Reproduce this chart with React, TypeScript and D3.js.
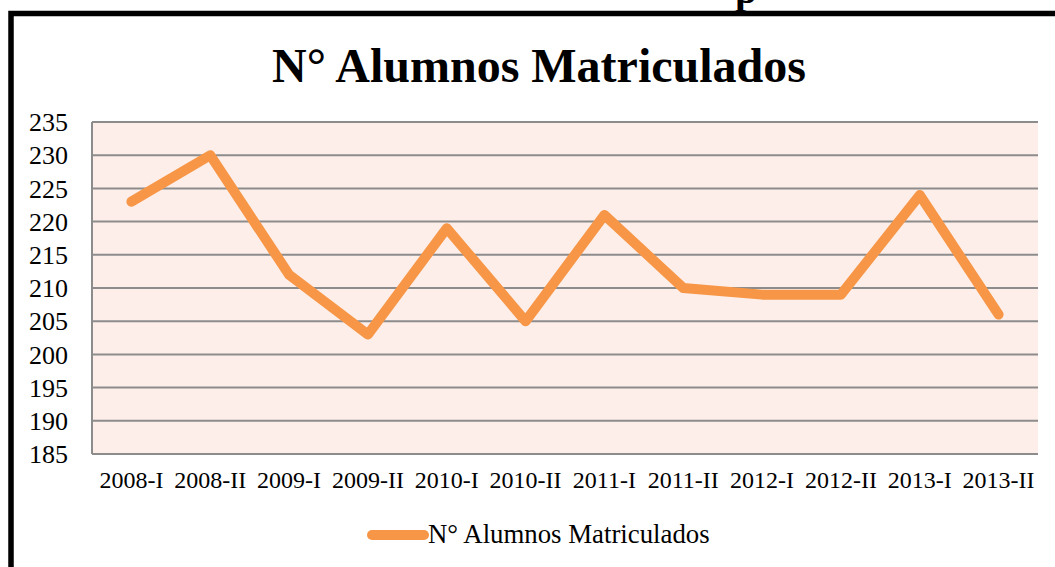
import React from "react";
import * as d3 from "d3";

const categories = ["2008-I","2008-II","2009-I","2009-II","2010-I","2010-II","2011-I","2011-II","2012-I","2012-II","2013-I","2013-II"];
const values = [223, 230, 212, 203, 219, 205, 221, 210, 209, 209, 224, 206];
const yTicks = [185, 190, 195, 200, 205, 210, 215, 220, 225, 230, 235];
const seriesName = "N° Alumnos Matriculados";
const title = "N° Alumnos Matriculados";

export default function App() {
  const W = 1055, H = 567;
  const left = 92, right = 1038, top = 122, bottom = 454;
  const x = d3.scaleBand<string>().domain(categories).range([left, right]);
  const y = d3.scaleLinear().domain([185, 235]).range([bottom, top]);
  const line = d3.line<number>()
    .x((_, i) => (x(categories[i]) as number) + x.bandwidth() / 2)
    .y((d) => y(d));
  const font = "'Liberation Serif', 'Times New Roman', serif";
  return (
    <svg width={W} height={H} style={{ position: "absolute", left: 0, top: 0 }} fontFamily={font}>
      <rect x={0} y={0} width={W} height={H} fill="#fff" />
      <text x={746} y={3} textAnchor="middle" fontSize={40} fontWeight="bold" fill="#000">p</text>
      <rect x={0} y={15} width={W} height={H} fill="#fff" />
      <path d={`M11,${H} L11,13.5 L${W},13.5`} fill="none" stroke="#000" strokeWidth={5.5} />
      <text x={539} y={82} textAnchor="middle" fontSize={48} fontWeight="bold" fill="#000">{title}</text>
      <rect x={left} y={top} width={right - left} height={bottom - top} fill="#FDEEE9" />
      {yTicks.map((t) => (
        <line key={t} x1={left} x2={right} y1={y(t)} y2={y(t)} stroke="#8C8C8C" strokeWidth={2} />
      ))}
      <line x1={left} x2={left} y1={top} y2={bottom} stroke="#8C8C8C" strokeWidth={2} />
      {yTicks.map((t) => (
        <text key={t} x={68} y={y(t)} dy="0.35em" textAnchor="end" fontSize={26} fill="#000">{t}</text>
      ))}
      {categories.map((c) => (
        <text key={c} x={(x(c) as number) + x.bandwidth() / 2} y={488} textAnchor="middle" fontSize={24} fill="#000">{c}</text>
      ))}
      <path d={line(values) as string} fill="none" stroke="#F79646" strokeWidth={10} strokeLinejoin="round" strokeLinecap="round" />
      <line x1={372} x2={424} y1={535} y2={535} stroke="#F79646" strokeWidth={10} strokeLinecap="round" />
      <text x={428} y={543} fontSize={26.8} fill="#000">{seriesName}</text>
    </svg>
  );
}
